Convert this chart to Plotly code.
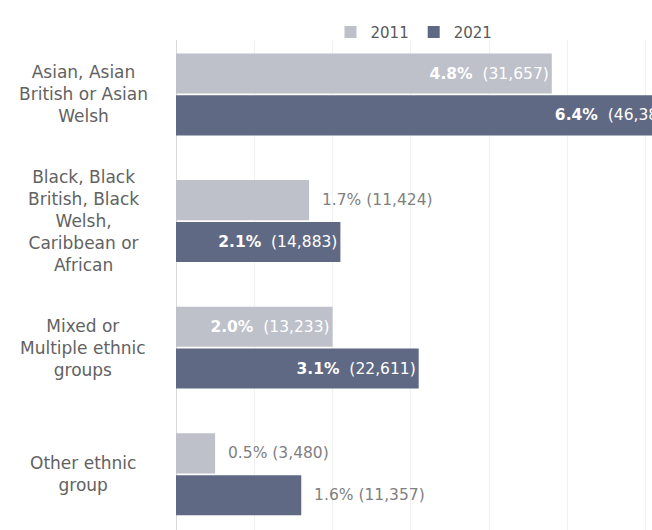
import plotly.graph_objects as go

categories = [
    "Asian, Asian<br>British or Asian<br>Welsh",
    "Black, Black<br>British, Black<br>Welsh,<br>Caribbean or<br>African",
    "Mixed or<br>Multiple ethnic<br>groups",
    "Other ethnic<br>group",
]
years = ["2011", "2021"]
pct_2011 = [4.8, 1.7, 2.0, 0.5]
count_2011 = [31657, 11424, 13233, 3480]
pct_2021 = [6.4, 2.1, 3.1, 1.6]
count_2021 = [46382, 14883, 22611, 11357]

# label placement (style)
pos_2011 = ["inside", "outside", "inside", "outside"]
pos_2021 = ["inside", "inside", "inside", "outside"]

colors = {"2011": "#bec0ca", "2021": "#5f6984"}
FONT = "DejaVu Sans, Verdana, sans-serif"


def labels(pcts, counts, positions):
    out = []
    for p, c, pos in zip(pcts, counts, positions):
        if pos == "inside":
            out.append(f"<b>{p:.1f}%</b>\u00a0 ({c:,})")
        else:
            out.append(f"\u00a0\u00a0{p:.1f}% ({c:,})")
    return out


idx = list(range(len(categories)))
fig = go.Figure()
for yr, pcts, counts, pos in [("2011", pct_2011, count_2011, pos_2011),
                              ("2021", pct_2021, count_2021, pos_2021)]:
    fig.add_trace(go.Bar(
        name=yr, orientation="h", x=pcts, y=idx,
        marker=dict(color=colors[yr], line=dict(width=0)),
        text=labels(pcts, counts, pos),
        textposition=pos,
        insidetextanchor="end",
        constraintext="none",
        insidetextfont=dict(color="white", size=15.5, family=FONT),
        outsidetextfont=dict(color="#7f7f7f", size=15.5, family=FONT),
        cliponaxis=True,
        hoverinfo="skip",
    ))

for i, cat in enumerate(categories):
    fig.add_annotation(
        x=-0.195, xref="paper", y=i, yref="y",
        text=cat, showarrow=False, align="center",
        xanchor="center", yanchor="middle",
        font=dict(size=17, color="#626262", family=FONT),
    )

fig.update_layout(
    width=652, height=530,
    margin=dict(l=176, r=0, t=40, b=0),
    paper_bgcolor="white", plot_bgcolor="white",
    barmode="group", bargap=0.34, bargroupgap=0.04,
    showlegend=True,
    legend=dict(orientation="h", x=0.5, xanchor="center", y=0.982, yanchor="bottom",
                font=dict(size=15, color="#595959", family=FONT),
                traceorder="normal", bgcolor="rgba(0,0,0,0)"),
    xaxis=dict(range=[0, 6.08], dtick=1, showgrid=True, gridcolor="#f1f1f1",
               gridwidth=1, showticklabels=False, zeroline=True,
               zerolinecolor="#d9d9d9", zerolinewidth=1, fixedrange=True),
    yaxis=dict(range=[3.44, -0.43], showticklabels=False, showgrid=False,
               zeroline=False, fixedrange=True),
)

fig.write_html("out.html")
